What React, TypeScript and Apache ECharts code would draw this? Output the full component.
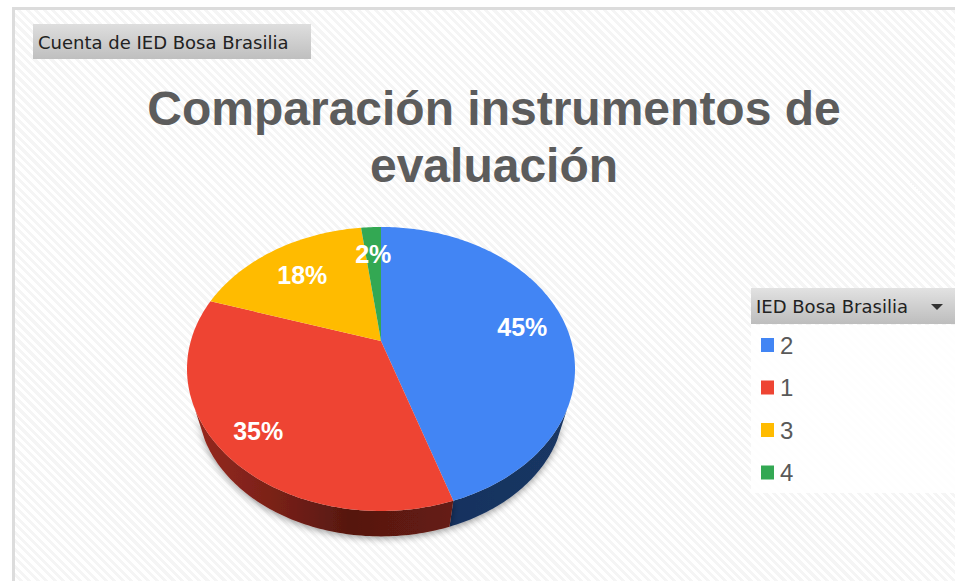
import React, { useEffect, useRef } from "react";
import * as echarts from "echarts";

const categories = ["2", "1", "3", "4"];
const values = [45, 35, 18, 2];
const colors = ["#4285F4", "#EE4433", "#FFBB00", "#33A853"];
const titleText = "Comparación instrumentos de\nevaluación";
const chipText = "Cuenta de IED Bosa Brasilia";
const filterText = "IED Bosa Brasilia";

const wallFills: any[] = [
  { type: "linear", x: 0, y: 0, x2: 1, y2: 0, colorStops: [{ offset: 0, color: "#17325F" }, { offset: 1, color: "#1A3763" }] },
  { type: "linear", x: 0, y: 0, x2: 1, y2: 0, colorStops: [{ offset: 0, color: "#96291F" }, { offset: 0.3, color: "#7A2118" }, { offset: 0.6, color: "#561810" }, { offset: 1, color: "#661B13" }] },
  { type: "linear", x: 0, y: 0, x2: 1, y2: 0, colorStops: [{ offset: 0, color: "#7F5E00" }, { offset: 1, color: "#7F5E00" }] },
  { type: "linear", x: 0, y: 0, x2: 1, y2: 0, colorStops: [{ offset: 0, color: "#1A5429" }, { offset: 1, color: "#1A5429" }] },
];
const labelReach = [0.77, 0.81, 0.72, 0.75];

// Perspective projection of the pie's unit disc on the page
const APEX_X = 381;
const APEX_Y = 341;
const RX = 190.2;
const RY = 136.5;
const K = 0.197;
// The underside of the pie, scaled towards a point below it
const BASE_SCALE = 0.947;
const VANISH_Y = 990;
// Only the part of the rim nearest the viewer shows a wall
const WALL_FROM = 0.45;

const project = (x: number, y: number): number[] => {
  const w = 1 - K * y;
  return [APEX_X + (RX * x) / w, APEX_Y + (RY * y) / w];
};
const rim = (angle: number): number[] => project(Math.sin(angle), -Math.cos(angle));
const toBase = (p: number[]): number[] => [
  APEX_X + (p[0] - APEX_X) * BASE_SCALE,
  VANISH_Y + (p[1] - VANISH_Y) * BASE_SCALE,
];

const total = values.reduce((a, b) => a + b, 0);
const sliceAngles = (index: number): number[] => {
  const before = values.slice(0, index).reduce((a, b) => a + b, 0);
  return [(before / total) * Math.PI * 2, ((before + values[index]) / total) * Math.PI * 2];
};
const sampleAngles = (start: number, end: number): number[] => {
  const steps = Math.max(2, Math.ceil((end - start) / (Math.PI / 180)));
  const out: number[] = [];
  for (let i = 0; i <= steps; i++) out.push(start + ((end - start) * i) / steps);
  return out;
};

const makeRenderItem = (index: number) => () => {
  const [start, end] = sliceAngles(index);
  const angles = sampleAngles(start, end);
  const arc = angles.map(rim);
  const wallArc = angles.filter((a) => -Math.cos(a) > WALL_FROM).map(rim);
  const mid = (start + end) / 2;
  const reach = labelReach[index];
  const lab = project(reach * Math.sin(mid), -reach * Math.cos(mid));
  const children: any[] = [
    {
      type: "polygon",
      z2: 2,
      shape: { points: [[APEX_X, APEX_Y], ...arc] },
      style: { fill: colors[index] },
    },
    {
      type: "text",
      z2: 3,
      x: lab[0],
      y: lab[1] + 2,
      style: {
        text: Math.round((values[index] / total) * 100) + "%",
        fill: "#FFFFFF",
        font: 'bold 25px "Liberation Sans"',
        align: "center",
        verticalAlign: "middle",
      },
    },
  ];
  if (wallArc.length > 1) {
    children.unshift({
      type: "polygon",
      z2: 1,
      shape: { points: [...wallArc, ...wallArc.map(toBase).reverse()] },
      style: {
        fill: wallFills[index],
        shadowBlur: 7,
        shadowColor: "rgba(0,0,0,0.4)",
        shadowOffsetY: 2,
      },
    });
  }
  return { type: "group", children };
};

const greyBar = (top: string, bottom: string) => ({
  type: "linear",
  x: 0,
  y: 0,
  x2: 0,
  y2: 1,
  colorStops: [
    { offset: 0, color: top },
    { offset: 1, color: bottom },
  ],
});

export default function App() {
  const ref = useRef<HTMLDivElement>(null);
  useEffect(() => {
    document.body.style.margin = "0";
    const chart = echarts.init(ref.current!, undefined, { renderer: "svg" });
    chart.setOption({
      animation: false,
      backgroundColor: "transparent",
      title: {
        text: titleText,
        left: 489,
        top: 75,
        textAlign: "center",
        textStyle: {
          fontFamily: "Liberation Sans",
          fontWeight: "bold",
          fontSize: 48,
          lineHeight: 57,
          color: "#5C5C5C",
        },
      },
      legend: {
        orient: "vertical",
        left: 761,
        top: 333,
        padding: 0,
        data: categories,
        icon: "rect",
        itemWidth: 13,
        itemHeight: 14,
        itemGap: 18.5,
        selectedMode: false,
        textStyle: {
          fontFamily: "Liberation Sans",
          fontSize: 24,
          color: "#595959",
          padding: [0, 0, 0, 1],
        },
      },
      xAxis: { show: false, type: "value", min: 0, max: 1 },
      yAxis: { show: false, type: "value", min: 0, max: 1 },
      grid: { left: 0, right: 0, top: 0, bottom: 0 },
      graphic: [
        { type: "rect", z: -1, shape: { x: 751, y: 325, width: 204, height: 168 }, style: { fill: "rgba(255,255,255,0.85)" } },
        { type: "rect", z: 1, shape: { x: 33, y: 24, width: 278, height: 35 }, style: { fill: greyBar("#DEDEDE", "#BFBFBF") } },
        {
          type: "text", z: 2, x: 38, y: 42,
          style: { text: chipText, fill: "#222222", font: '18px "DejaVu Sans"', verticalAlign: "middle" },
        },
        { type: "rect", z: 1, shape: { x: 751, y: 288, width: 204, height: 36 }, style: { fill: greyBar("#E2E2E2", "#BDBDBD") } },
        {
          type: "text", z: 2, x: 756, y: 306,
          style: { text: filterText, fill: "#222222", font: '18px "DejaVu Sans"', verticalAlign: "middle" },
        },
        { type: "polygon", z: 2, shape: { points: [[931, 304], [943, 304], [937, 310]] }, style: { fill: "#333333" } },
      ],
      series: categories.map((name, i) => ({
        type: "custom",
        name,
        coordinateSystem: "none",
        silent: true,
        itemStyle: { color: colors[i] },
        data: [values[i]],
        renderItem: makeRenderItem(i),
      })),
    });
    return () => chart.dispose();
  }, []);

  return (
    <div style={{ position: "relative", width: 955, height: 581, overflow: "hidden", background: "#FFFFFF" }}>
      <div
        style={{
          position: "absolute",
          left: 12,
          top: 7,
          width: 943,
          height: 574,
          boxSizing: "border-box",
          borderLeft: "3px solid #DCDCDC",
          borderTop: "3px solid #DCDCDC",
          background:
            "repeating-linear-gradient(45deg, #FFFFFF 0px, #FFFFFF 3px, #F5F5F5 3px, #F5F5F5 6px)",
        }}
      />
      <div ref={ref} style={{ position: "absolute", left: 0, top: 0, width: 955, height: 581 }} />
    </div>
  );
}
